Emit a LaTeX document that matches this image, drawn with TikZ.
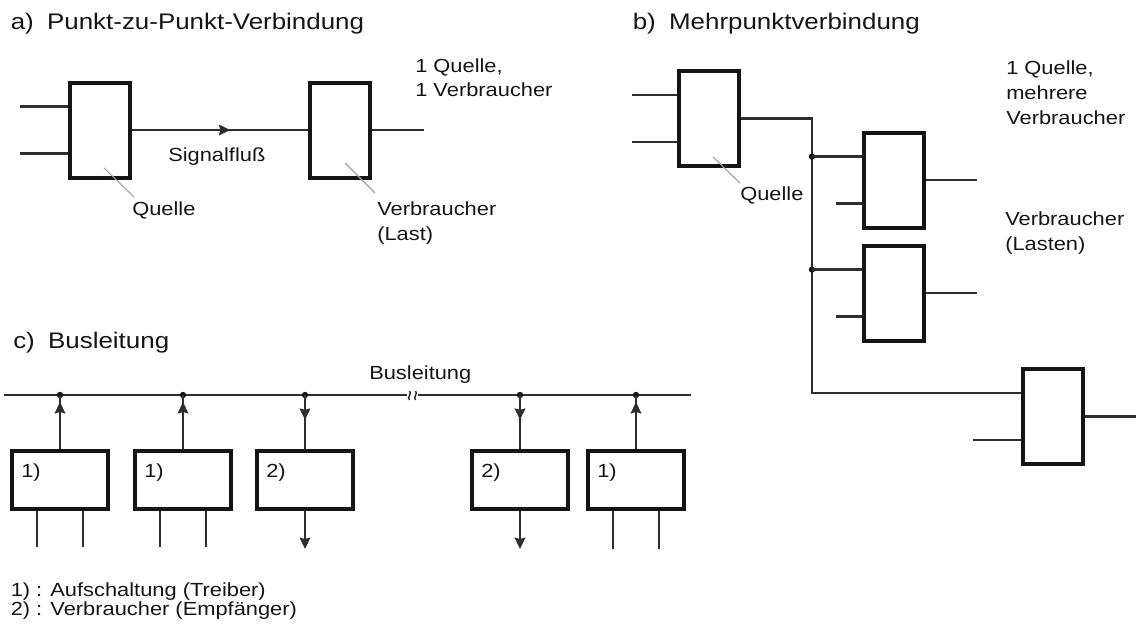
\documentclass[tikz,border=0pt]{standalone}
\usepackage{fontspec}
\setmainfont{Liberation Sans}[FakeStretch=1.15]
\usetikzlibrary{arrows.meta,decorations.markings}

\definecolor{ink}{HTML}{151515}
\definecolor{wirec}{HTML}{2E2E2E}
\definecolor{leadc}{HTML}{A0A0A0}

\begin{document}
\begin{tikzpicture}[x=0.75pt,y=-0.75pt,
  wire/.style={draw=wirec, line width=1.6pt},
  leader/.style={draw=leadc, line width=0.8pt},
  tallbox/.style={draw=ink, line width=3pt, minimum width=45pt, minimum height=71.25pt, inner sep=0pt},
  widebox/.style={draw=ink, line width=3pt, minimum width=72pt, minimum height=43.5pt, inner sep=0pt},
  lbl/.style={font=\fontsize{14.25}{17}\selectfont, text=ink, inner sep=0pt, anchor=base west},
  ttl/.style={font=\fontsize{16.9}{20}\selectfont, text=ink, inner sep=0pt, anchor=base west},
  endhead/.style={-{Stealth[length=8.5pt,width=8pt,inset=1pt]}},
  midhead/.style={postaction={decorate}, decoration={markings, mark=at position #1 with {\arrow{Stealth[length=8.5pt,width=8pt,inset=1pt]}}}},
  junction/.style={circle, fill=ink, inner sep=0pt, minimum size=4.8pt},
]
\useasboundingbox (0,0) rectangle (1136,629);

% ---------------- a) point-to-point link ----------------
\node[ttl] (ta) at (10.5,29) {a)\hspace{10pt}Punkt-zu-Punkt-Verbindung};

\node[tallbox] (qa) at (99.5,130) {};
\node[tallbox] (va) at (340,130) {};
\coordinate (qa1) at (20,106.5);
\coordinate (qa2) at (20,153.5);
\draw[wire] (qa1) -- (qa1 -| qa.west);
\draw[wire] (qa2) -- (qa2 -| qa.west);
\draw[wire, midhead=0.56] (qa.east) -- (va.west);
\coordinate (vaout) at (424,130);
\draw[wire] (va.east) -- (vaout);

\node[lbl] (sig) at (168,161) {Signalfluß};

\coordinate (qaL1) at (104,168);
\coordinate (qaL2) at (134,197);
\draw[leader] (qaL1) -- (qaL2);
\node[lbl] (qalab) at (132,215) {Quelle};

\coordinate (vaL1) at (345,163);
\coordinate (vaL2) at (375,193);
\draw[leader] (vaL1) -- (vaL2);
\node[lbl] (valab1) at (377,215) {Verbraucher};
\node[lbl] (valab2) at (377,240) {(Last)};

\node[lbl] (na1) at (415,72) {1 Quelle,};
\node[lbl] (na2) at (415,96) {1 Verbraucher};

% ---------------- b) multipoint link ----------------
\node[ttl] (tb) at (632.5,29) {b)\hspace{10pt}Mehrpunktverbindung};

\node[tallbox] (sb) at (709,118.5) {};
\node[tallbox] (l1) at (894,180) {};
\node[tallbox] (l2) at (894,293) {};
\node[tallbox] (l3) at (1053,416.5) {};

\coordinate (sb1) at (632,95);
\coordinate (sb2) at (632,142);
\draw[wire] (sb1) -- (sb1 -| sb.west);
\draw[wire] (sb2) -- (sb2 -| sb.west);

% trunk from the source down to the last load
\coordinate (trunk) at (812,393);
\draw[wire] (sb.east) -- (sb.east -| trunk) -- (trunk) -- (trunk -| l3.west);

\node[junction] (j1) at (812,156.5) {};
\node[junction] (j2) at (812,269.5) {};
\draw[wire] (j1.center) -- (j1 -| l1.west);
\draw[wire] (j2.center) -- (j2 -| l2.west);

\coordinate (l1b) at (836,203.5);
\coordinate (l2b) at (836,316.5);
\coordinate (l3b) at (973,440);
\draw[wire] (l1b) -- (l1b -| l1.west);
\draw[wire] (l2b) -- (l2b -| l2.west);
\draw[wire] (l3b) -- (l3b -| l3.west);

\coordinate (l1o) at (977,180);
\coordinate (l2o) at (977,293);
\coordinate (l3o) at (1136,416.5);
\draw[wire] (l1.east) -- (l1o);
\draw[wire] (l2.east) -- (l2o);
\draw[wire] (l3.east) -- (l3o);

\coordinate (sbL1) at (713,157);
\coordinate (sbL2) at (740,183);
\draw[leader] (sbL1) -- (sbL2);
\node[lbl] (sblab) at (740,200) {Quelle};

\node[lbl] (nb1) at (1006,74) {1 Quelle,};
\node[lbl] (nb2) at (1006,99) {mehrere};
\node[lbl] (nb3) at (1006,124) {Verbraucher};

\node[lbl] (lb1) at (1005,225) {Verbraucher};
\node[lbl] (lb2) at (1005,250) {(Lasten)};

% ---------------- c) bus line ----------------
\node[ttl] (tc) at (13,348) {c)\hspace{10pt}Busleitung};

\coordinate (busL) at (4,395);
\coordinate (busR) at (691,395);
\coordinate (brk1) at (407,395);
\coordinate (brk2) at (418,395);
\draw[wire] (busL) -- (brk1);
\draw[wire] (brk2) -- (busR);
% interruption mark
\draw[wire, line width=1.1pt] (409.5,400) .. controls (406.5,397) and (412.5,394) .. (409.5,391);
\draw[wire, line width=1.1pt] (415.5,400) .. controls (412.5,397) and (418.5,394) .. (415.5,391);
\node[lbl] (buslab) at (369,379) {Busleitung};

\node[widebox] (u1) at (60,480) {};
\node[widebox] (u2) at (183,480) {};
\node[widebox] (u3) at (305,480) {};
\node[widebox] (u4) at (520,480) {};
\node[widebox] (u5) at (636,480) {};

\node[lbl] (u1t) at (21,477) {1)};
\node[lbl] (u2t) at (144,477) {1)};
\node[lbl] (u3t) at (266,477) {2)};
\node[lbl] (u4t) at (481,477) {2)};
\node[lbl] (u5t) at (597,477) {1)};

\node[junction] (b1) at (u1.north |- busL) {};
\node[junction] (b2) at (u2.north |- busL) {};
\node[junction] (b3) at (u3.north |- busL) {};
\node[junction] (b4) at (u4.north |- busL) {};
\node[junction] (b5) at (u5.north |- busL) {};

% drivers feed the bus, receivers take from it
\draw[wire, midhead=0.87] (u1.north) -- (b1.center);
\draw[wire, midhead=0.87] (u2.north) -- (b2.center);
\draw[wire, midhead=0.46] (b3.center) -- (u3.north);
\draw[wire, midhead=0.46] (b4.center) -- (u4.north);
\draw[wire, midhead=0.87] (u5.north) -- (b5.center);

\coordinate (u1a) at (37,547);
\coordinate (u1b) at (83,547);
\coordinate (u2a) at (160,547);
\coordinate (u2b) at (206,547);
\coordinate (u5a) at (613,549);
\coordinate (u5b) at (659,549);
\draw[wire] (u1a |- u1.south) -- (u1a);
\draw[wire] (u1b |- u1.south) -- (u1b);
\draw[wire] (u2a |- u2.south) -- (u2a);
\draw[wire] (u2b |- u2.south) -- (u2b);
\draw[wire] (u5a |- u5.south) -- (u5a);
\draw[wire] (u5b |- u5.south) -- (u5b);

\coordinate (u3o) at (305,549);
\coordinate (u4o) at (520,549);
\draw[wire, endhead] (u3.south) -- (u3o);
\draw[wire, endhead] (u4.south) -- (u4o);

\node[lbl] (leg1) at (10.5,596) {1) : Aufschaltung (Treiber)};
\node[lbl] (leg2) at (10.5,615.5) {2) : Verbraucher (Empfänger)};

\end{tikzpicture}
\end{document}
